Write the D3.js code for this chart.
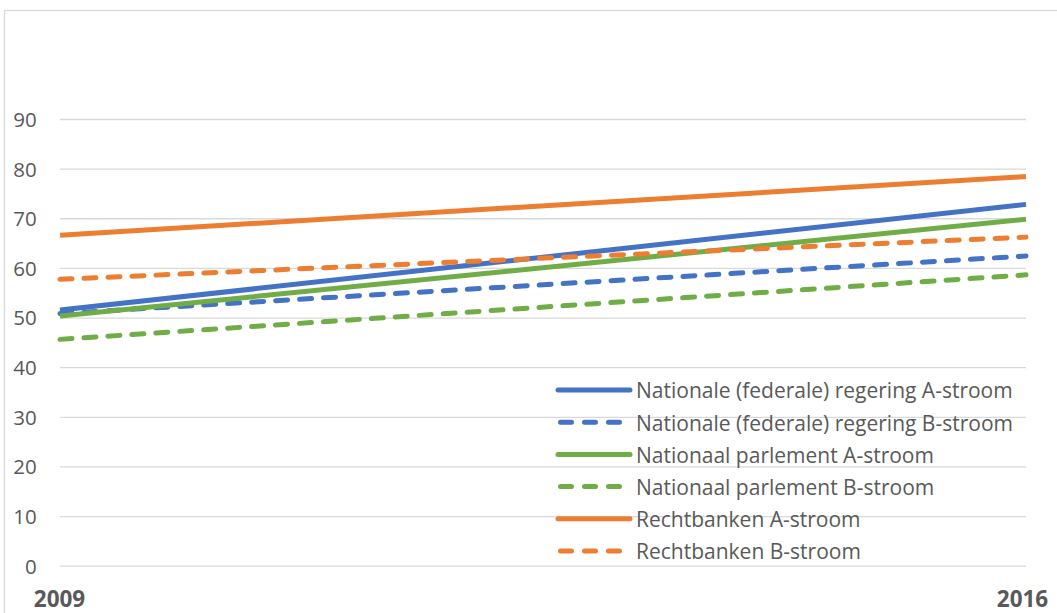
<!DOCTYPE html>
<html>
<head>
<meta charset="utf-8">
<script src="https://cdn.jsdelivr.net/npm/d3@7"></script>
<style>
  html, body { margin: 0; padding: 0; background: #fff; }
  svg { display: block; }
  svg text { font-family: "Open Sans", "Noto Sans", sans-serif; }
</style>
</head>
<body>
<svg id="chart" width="1057" height="613"></svg>
<script>
// Years on the horizontal axis
const years = [2009, 2016];
const yearLabels = ["2009", "2016"];
const yTicks = [0, 10, 20, 30, 40, 50, 60, 70, 80, 90];

// Series names (legend order)
const seriesNames = [
  "Nationale (federale) regering A-stroom",
  "Nationale (federale) regering B-stroom",
  "Nationaal parlement A-stroom",
  "Nationaal parlement B-stroom",
  "Rechtbanken A-stroom",
  "Rechtbanken B-stroom"
];

// Values per series, one per year
const regeringA = [51.5, 72.8];
const regeringB = [50.8, 62.4];
const parlementA = [50.3, 69.8];
const parlementB = [45.6, 58.6];
const rechtbankenA = [66.6, 78.4];
const rechtbankenB = [57.7, 66.2];

const seriesValues = [regeringA, regeringB, parlementA, parlementB, rechtbankenA, rechtbankenB];
const seriesColors = ["#4472C4", "#4472C4", "#70AD47", "#70AD47", "#ED7D31", "#ED7D31"];
const seriesDashed = [false, true, false, true, false, true];

const FONT = '"Open Sans", "Noto Sans", sans-serif';

const svg = d3.select("#chart");

// Outer chart frame
svg.append("rect")
  .attr("x", 4.5).attr("y", 10.5)
  .attr("width", 1100).attr("height", 700)
  .attr("fill", "none")
  .attr("stroke", "#d9d9d9")
  .attr("stroke-width", 1.3);

const plot = { left: 60, right: 1026, top: 119, bottom: 565.7 };

const x = d3.scaleLinear().domain([2009, 2016]).range([plot.left, plot.right]);
const y = d3.scaleLinear().domain([0, 90]).range([plot.bottom, plot.top]);

// Horizontal gridlines via the y axis
const yAxis = d3.axisLeft(y).tickValues(yTicks).tickSize(-(plot.right - plot.left)).tickPadding(23.3).tickFormat(d3.format("d"));
const gy = svg.append("g").attr("transform", `translate(${plot.left},0)`).call(yAxis)
  .attr("font-family", null);
gy.select(".domain").remove();
gy.selectAll(".tick line").attr("stroke", "#d9d9d9").attr("stroke-width", 1.3);
gy.selectAll(".tick text")
  .attr("fill", "#595959")
  .style("font-family", FONT)
  .style("font-size", "20.5px")
  .attr("dy", "0.36em");

// X axis labels
const xAxis = d3.axisBottom(x).tickValues(years).tickSize(0).tickPadding(0)
  .tickFormat((d, i) => yearLabels[i]);
const gx = svg.append("g").attr("transform", `translate(0,${plot.bottom})`).call(xAxis)
  .attr("font-family", null);
gx.select(".domain").remove();
gx.selectAll(".tick text")
  .attr("fill", "#595959")
  .attr("y", 41)
  .attr("dy", 0)
  .style("font-family", FONT)
  .style("font-size", "22.5px")
  .style("font-weight", "bold");
gx.selectAll(".tick").filter(d => d === 2009).select("text").attr("dx", -1);
gx.selectAll(".tick").filter(d => d === 2016).select("text").attr("dx", -4);

// Series lines
const line = d3.line().x((d, i) => x(years[i])).y(d => y(d));
const seriesData = seriesNames.map((name, i) => ({
  name, values: seriesValues[i], color: seriesColors[i], dashed: seriesDashed[i]
}));

svg.append("g").selectAll("path")
  .data(seriesData)
  .join("path")
  .attr("d", d => line(d.values))
  .attr("fill", "none")
  .attr("stroke", d => d.color)
  .attr("stroke-width", 5)
  .attr("stroke-linecap", d => d.dashed ? "round" : "butt")
  .attr("stroke-dasharray", d => d.dashed ? "12,12" : null);

// Legend
const legend = svg.append("g").attr("transform", "translate(558,390)");
const rowH = 32.2;
const items = legend.selectAll("g").data(seriesData).join("g")
  .attr("transform", (d, i) => `translate(0,${i * rowH})`);
items.append("line")
  .attr("x1", d => d.dashed ? 2.5 : 0).attr("x2", d => d.dashed ? 70 : 72)
  .attr("y1", 0).attr("y2", 0)
  .attr("stroke", d => d.color)
  .attr("stroke-width", 5)
  .attr("stroke-linecap", "round")
  .attr("stroke-dasharray", d => d.dashed ? "11,13" : null);
items.append("text")
  .attr("x", 78).attr("y", 0).attr("dy", "0.4em")
  .attr("fill", "#595959")
  .style("font-family", FONT)
  .style("font-size", "21px")
  .text(d => d.name);
</script>
</body>
</html>
